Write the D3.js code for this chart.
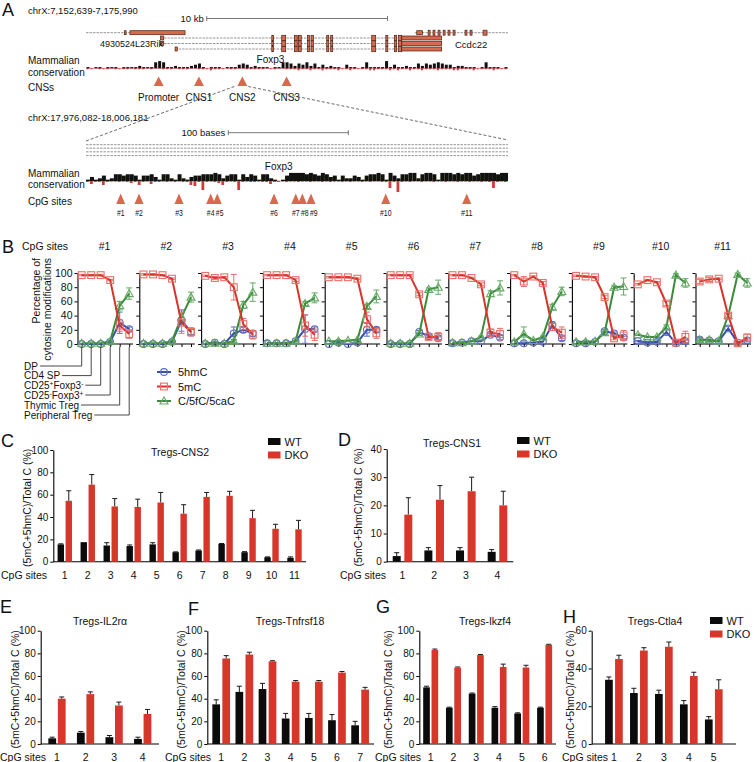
<!DOCTYPE html>
<html><head><meta charset="utf-8">
<script src="https://cdn.jsdelivr.net/npm/d3@7"></script>
<style>
body{margin:0;background:#fff}
svg{display:block}
text{font-family:"Liberation Sans",Arial,Helvetica,sans-serif;fill:#111}
</style></head><body>
<script>
// ---------------- DATA ----------------
// Panel A (top): gene annotation, kb from start of chrX:7,152,639-7,175,990
const regionKb = 23.35;
const scaleBarKb = [6.68, 16.68];
const rikSpan = [0, 5.48];
const rikExons = [[2.12, 2.22], [2.43, 5.48]];
const foxp3Starts = [4.12, 4.12, 4.93];
const foxp3FirstExons = [[4.12, 4.30], [4.12, 4.30], [4.93, 5.05]];
const foxp3End = 19.68;
const foxp3Exons = [[10.28,10.37],[10.83,11.05],[11.53,11.69],[11.75,11.91],[12.25,12.36],[12.45,12.58],[13.32,13.43],[13.54,13.65],[15.81,16.03],[16.59,16.70],[17.06,17.19],[17.28,17.47]];
const foxp3Utr = [17.47, 19.68];
const ccdcSpan = [18.2, 23.35];
const ccdcExons = [[18.30,18.62],[18.93,19.04],[19.20,19.31],[19.48,19.59],[19.76,19.87],[20.03,20.14],[20.31,20.42],[20.97,21.08],[21.25,21.36],[21.97,22.19]];
const cnsNames = ["Promoter", "CNS1", "CNS2", "CNS3"];
const cnsKb = [4.02, 6.25, 8.65, 11.1];
const consTopPos = [1,0,1,1,0,1,1,1,0,1,1,1,1,2,1,1,1,5,6,5,1,1,2,1,1,1,2,3,4,1,0,1,1,1,0,1,1,1,3,4,3,1,2,1,1,1,0,1,1,5,5,4,2,4,3,5,2,4,1,3,1,2,1,1,0,3,1,1,0,1,5,1,1,1,1,6,1,3,1,1,2,1,1,4,2,4,3,4,5,4,3,3,1,2,2,1,1,1,0,1,5,1,1,1,0,1];
const consTopNeg = [1,1,0,1,1,1,0,1,1,1,1,0,1,1,1,0,1,0,0,1,1,1,0,1,1,1,0,0,1,1,1,2,1,1,1,0,1,1,0,0,1,1,1,1,1,0,1,1,0,0,1,1,1,2,1,1,2,1,1,2,1,1,1,2,1,1,2,1,1,1,1,2,2,1,1,1,2,1,2,1,1,2,1,1,2,1,1,1,2,1,1,1,2,2,1,1,1,2,1,1,1,1,2,1,1,1];
// Panel A (bottom): CNS2 zoom, bases
const regionBases = 351.7;
const scaleBarBases = [118.6, 218.6];
const cpgNames = ["#1","#2","#3","#4","#5","#6","#7","#8","#9","#10","#11"];
const cpgBases = [28.9, 44.2, 77.5, 103.9, 109.4, 156.7, 174.8, 180.3, 187.5, 249.8, 317.3];
const consLowPos = [1,3,1,2,4,1,2,5,5,4, 5,5,4,1,4,4,5,3,1,5, 5,2,1,5,2,1,3,4,4,5, 5,5,6,5,2,4,5,5,1,5, 3,5,4,1,5,5,2,1,0,1, 4,6,6,6,6,5,6,5,4,6, 5,3,4,1,4,2,2,4,3,1, 4,5,5,6,5,1,6,4,2,5, 5,6,6,2,5,6,6,5,1,6, 6,6,5,6,5,6,6,4,5,6, 6,6,6,5,6,6];
const consLowNeg = [1,3,1,1,4,1,0.5,0.5,1,0.5, 1,2,1,4,1,0.5,3,1,1,0.5, 1,0.5,1,0.5,1,1,4,5,1,9, 1,0.5,1,2,4,1,0.5,1,9,1, 0.5,1,1,0.5,1,1,3,1,1,0.5, 1,0.5,0.5,1,0.5,0.5,1,0.5,0.5,1, 0.5,1,0.5,0.5,1,0.5,1,0.5,0.5,1, 0.5,1,0.5,0.5,1,1,7,1,11,1, 0.5,1,0.5,0.5,1,0.5,0.5,1,0.5,0.5, 1,0.5,0.5,1,0.5,0.5,1,0.5,0.5,1, 0.5,1,7,1,0.5,1];

// Panel B
const stages = ["DP", "CD4 SP", "CD25+Foxp3-", "CD25-Foxp3+", "Thymic Treg", "Peripheral Treg"];
const bSites = ["#1","#2","#3","#4","#5","#6","#7","#8","#9","#10","#11"];
const bTicks = [0, 20, 40, 60, 80, 100];
const hmC = [[0,0,0,3,30,21],[0,0,0,3,33,17],[0,2,0,15,20,15],[1,1,1,4,21,21],[0,2,0,2,20,20],[0,0,0,17,11,8],[1,2,4,4,13,9],[1,1,2,3,27,8],[1,1,3,18,15,9],[4,2,3,17,1,4],[6,5,4,22,2,5]];
const hmCErr = [[0,0,0,1,15,3],[0,0,0,1,15,4],[0,1,0,9,4,4],[0,0,0,1,20,3],[0,1,0,1,9,3],[0,0,0,2,2,2],[0,0,0,0,2,3],[0,0,0,0,4,3],[0,0,0,2,2,2],[1,1,1,3,1,2],[3,1,1,3,1,2]];
const mC = [[97,97,97,90,26,14],[98,98,97,92,30,17],[96,93,94,80,28,13],[97,97,97,90,26,13],[94,94,94,92,35,15],[97,97,97,70,10,10],[97,97,93,84,16,14],[97,88,95,86,24,16],[96,95,94,66,8,12],[84,90,87,57,2,10],[88,91,92,40,1,9]];
const mCErr = [[1,1,1,1,8,6],[1,1,1,1,15,6],[1,2,1,18,8,6],[1,1,1,2,15,8],[1,1,1,1,10,7],[1,1,1,2,2,6],[1,1,1,2,5,8],[1,7,1,2,5,8],[1,1,1,2,2,7],[1,1,1,3,1,8],[3,3,1,3,1,5]];
const caC = [[1,1,1,4,54,71],[1,1,1,4,38,66],[1,1,1,4,55,73],[1,1,1,4,57,65],[4,4,5,6,53,67],[1,1,1,14,77,80],[2,2,4,10,71,79],[3,14,5,10,52,74],[3,3,4,16,80,81],[13,10,10,24,97,86],[6,6,4,40,98,86]];
const caCErr = [[0,0,0,1,6,8],[0,0,0,1,5,7],[0,0,0,2,5,13],[0,0,0,1,3,7],[0,1,0,1,3,9],[0,0,0,2,2,10],[0,0,0,1,4,10],[0,10,0,1,4,6],[0,0,0,2,2,12],[1,1,1,3,2,6],[1,1,1,3,2,6]];
const bLegend = ["5hmC", "5mC", "C/5fC/5caC"];

// Panels C-H
const groups = ["WT", "DKO"];
const cCats = ["1","2","3","4","5","6","7","8","9","10","11"];
const cWT = [15.5,17.5,14.5,14,15.5,8.5,10,16,8.5,4,3.5];
const cWTErr = [0.5,0,2.5,1,1.5,0.3,0.5,0.3,0.5,0.3,0.8];
const cDKO = [54.5,69,49.5,49,53,43,58,59,39,29.5,29];
const cDKOErr = [9,9,7,7,9,8,4,4,7,4,8];
const dCats = ["1","2","3","4"];
const dWT = [2,4,4,3.5];
const dWTErr = [1.2,1,1,0.8];
const dDKO = [16.7,22,25,20];
const dDKOErr = [6,5,5,5];
const eCats = ["1","2","3","4"];
const eWT = [5,10,6,4.5];
const eWTErr = [1,1,1.5,1.5];
const eDKO = [40,44,34,26.5];
const eDKOErr = [1.5,2,3,4];
const fCats = ["1","2","3","4","5","6","7"];
const fWT = [35,46,48.5,22.5,23,21,16.5];
const fWTErr = [4,5,5,4.5,4,5,3.5];
const fDKO = [75.5,79,73,55,55,63,48];
const fDKOErr = [2.5,2,0.5,1,1,1,2];
const gCats = ["1","2","3","4","5","6"];
const gWT = [50,32,44.5,32,27,32];
const gWTErr = [1,0.5,0.5,1,0.5,0.5];
const gDKO = [83,67.5,78.5,68,67.5,87.5];
const gDKOErr = [0.8,0.5,0.5,2.5,2,0.5];
const hCats = ["1","2","3","4","5"];
const hWT = [34,27,26.5,21,13];
const hWTErr = [1.5,2.5,2,2,1.5];
const hDKO = [45,49.5,51.5,36,29];
const hDKOErr = [2,1.5,2.5,2,5];

// ---------------- DRAW ----------------
const svg = d3.select("body").append("svg").attr("width", 754).attr("height", 762);
const EXON = "#d9694e", EXON_STROKE = "#4a2416", TRI = "#d9694e";
function text(g, x, y, s, o = {}) {
  const t = g.append("text").attr("x", x).attr("y", y).attr("font-size", o.size || 10.5)
    .attr("text-anchor", o.anchor || "start").text(s);
  if (o.fill) t.attr("fill", o.fill);
  return t;
}
function vtext(g, cx, cy, s, o = {}) {
  return g.append("text").attr("transform", `translate(${cx},${cy}) rotate(-90)`)
    .attr("font-size", o.size || 10.5).attr("text-anchor", o.anchor || "middle").text(s);
}
function scaleBar(g, x0, x1, y) {
  g.append("line").attr("x1", x0).attr("x2", x1).attr("y1", y).attr("y2", y).attr("stroke", "#555").attr("stroke-width", 0.8);
  [x0, x1].forEach(x => g.append("line").attr("x1", x).attr("x2", x).attr("y1", y - 2.5).attr("y2", y + 2.5).attr("stroke", "#555").attr("stroke-width", 0.8));
}
function intron(g, x0, x1, y) {
  g.append("line").attr("x1", x0).attr("x2", x1).attr("y1", y).attr("y2", y)
    .attr("stroke", "#8a8a8a").attr("stroke-width", 0.9).attr("stroke-dasharray", "2.5,1");
}
function exon(g, x0, x1, y, h) {
  g.append("rect").attr("x", x0).attr("y", y - h / 2).attr("width", Math.max(1.5, x1 - x0)).attr("height", h)
    .attr("fill", EXON).attr("stroke", EXON_STROKE).attr("stroke-width", 0.7);
}
function tri(g, x, yTop, w, h) {
  g.append("path").attr("d", `M${x},${yTop}L${x - w / 2},${yTop + h}L${x + w / 2},${yTop + h}Z`).attr("fill", TRI);
}
function consTrack(g, pos, neg, baseY, pscale, frac) {
  const xb = d3.scaleBand().domain(d3.range(pos.length)).range([86, 508]);
  const hp = d3.scaleLinear().domain([0, 1]).range([0, pscale]);
  g.append("line").attr("x1", 86).attr("x2", 508).attr("y1", baseY).attr("y2", baseY).attr("stroke", "#d23a3a").attr("stroke-width", 0.6);
  g.selectAll(null).data(neg).join("rect")
    .attr("x", (d, i) => xb(i) + xb.bandwidth() * (1 - frac) / 2).attr("width", xb.bandwidth() * frac * 0.7)
    .attr("y", baseY).attr("height", d => d).attr("fill", "#d23a3a");
  g.selectAll(null).data(pos).join("rect")
    .attr("x", (d, i) => xb(i) + xb.bandwidth() * (1 - frac) / 2).attr("width", xb.bandwidth() * frac)
    .attr("y", d => baseY - hp(d)).attr("height", d => hp(d)).attr("fill", "#111");
}

// ===== Panel A =====
const gA = svg.append("g");
text(gA, 2, 16, "A", { size: 18 });
text(gA, 28, 14, "chrX:7,152,639-7,175,990", { size: 9.5 });
const xKb = d3.scaleLinear().domain([0, regionKb]).range([86, 508]);
text(gA, xKb(scaleBarKb[0]) - 3, 22, "10 kb", { size: 9.5, anchor: "end" });
scaleBar(gA, xKb(scaleBarKb[0]), xKb(scaleBarKb[1]), 18.5);
intron(gA, xKb(rikSpan[0]), xKb(rikSpan[1]), 32.7);
rikExons.forEach(e => exon(gA, xKb(e[0]), xKb(e[1]), 32.7, 4));
intron(gA, xKb(ccdcSpan[0]), xKb(ccdcSpan[1]), 32.7);
ccdcExons.forEach((e, i) => exon(gA, xKb(e[0]), xKb(e[1]), 32.7, i === 0 ? 4 : 5));
const fRows = [38, 43.5, 49];
fRows.forEach((y, r) => {
  intron(gA, xKb(foxp3Starts[r]), xKb(foxp3End), y);
  exon(gA, xKb(foxp3FirstExons[r][0]), xKb(foxp3FirstExons[r][1]), y, 4);
  foxp3Exons.forEach(e => exon(gA, xKb(e[0]), xKb(e[1]), y, 5.4));
  exon(gA, xKb(foxp3Utr[0]), xKb(foxp3Utr[1]), y, 4);
});
text(gA, 100, 47, "4930524L23Rik", { size: 9 });
text(gA, 455, 47.5, "Ccdc22", { size: 9.5 });
text(gA, 270.5, 63, "Foxp3", { size: 10, anchor: "middle" });
text(gA, 28, 64, "Mammalian", { size: 10 });
text(gA, 28, 75.5, "conservation", { size: 10 });
consTrack(gA, consTopPos, consTopNeg, 68.3, 1.2, 0.75);
text(gA, 28, 91, "CNSs", { size: 10 });
cnsKb.forEach((k, i) => {
  tri(gA, xKb(k), 76.5, 10, 9.5);
  text(gA, xKb(k), 101, cnsNames[i], { size: 10, anchor: "middle" });
});
gA.append("line").attr("x1", xKb(cnsKb[2]) - 8).attr("y1", 86.5).attr("x2", 86).attr("y2", 141)
  .attr("stroke", "#444").attr("stroke-width", 0.8).attr("stroke-dasharray", "3,2");
gA.append("line").attr("x1", xKb(cnsKb[2]) + 6).attr("y1", 86.5).attr("x2", 508).attr("y2", 140)
  .attr("stroke", "#444").attr("stroke-width", 0.8).attr("stroke-dasharray", "3,2");
text(gA, 28, 121, "chrX:17,976,082-18,006,181", { size: 9.5 });
const xBase = d3.scaleLinear().domain([0, regionBases]).range([86, 508]);
text(gA, xBase(scaleBarBases[0]) - 3, 136, "100 bases", { size: 9.5, anchor: "end" });
scaleBar(gA, xBase(scaleBarBases[0]), xBase(scaleBarBases[1]), 132.7);
[144.7, 148.2, 151.8, 155.6].forEach(y => intron(gA, 86, 508, y));
text(gA, 278.7, 169.5, "Foxp3", { size: 10, anchor: "middle" });
text(gA, 28, 176.5, "Mammalian", { size: 10 });
text(gA, 28, 188, "conservation", { size: 10 });
consTrack(gA, consLowPos, consLowNeg, 181, 1.35, 1);
text(gA, 28, 204.5, "CpG sites", { size: 10 });
const cpgX = cpgBases.map(b => xBase(b));
const labX = cpgX.slice();
for (let i = 1; i < labX.length; i++) if (labX[i] - labX[i - 1] < 9) labX[i] = labX[i - 1] + 9;
cpgX.forEach((x, i) => {
  tri(gA, x, 193.5, 9, 10.5);
  const n = cpgNames[i].length;
  text(gA, labX[i], 216, cpgNames[i], { size: 9, anchor: "middle" })
    .attr("textLength", n === 2 ? 7.6 : 11.5).attr("lengthAdjust", "spacingAndGlyphs");
});

// ===== Panel B =====
const gB = svg.append("g");
text(gB, 2, 253, "B", { size: 18 });
text(gB, 22, 249.5, "CpG sites", { size: 10.5 });
const bY = d3.scaleLinear().domain([0, 100]).range([344, 273]);
const bAxis0 = 77.5, bStep = 61.8;
const seriesDefs = [
  { vals: hmC, err: hmCErr, line: "#3a4ea6", mark: "#5a6cc2", shape: "circle" },
  { vals: caC, err: caCErr, line: "#3b8b3b", mark: "#64aa64", shape: "triangle" },
  { vals: mC, err: mCErr, line: "#d8342a", mark: "#e8706a", shape: "square" }
];
function marker(g, shape, x, y, color) {
  if (shape === "circle") g.append("circle").attr("cx", x).attr("cy", y).attr("r", 3.4).attr("fill", "none").attr("stroke", color).attr("stroke-width", 1.1);
  else if (shape === "square") g.append("rect").attr("x", x - 3.4).attr("y", y - 3.4).attr("width", 6.8).attr("height", 6.8).attr("fill", "none").attr("stroke", color).attr("stroke-width", 1.1);
  else g.append("path").attr("d", `M${x},${y - 4}L${x - 4},${y + 3}L${x + 4},${y + 3}Z`).attr("fill", "none").attr("stroke", color).attr("stroke-width", 1.1);
}
let firstX = null;
bSites.forEach((site, k) => {
  const ax = bAxis0 + bStep * k;
  const x = d3.scalePoint().domain(stages).range([ax + 4.2, ax + 51.7]);
  if (k === 0) firstX = x;
  const g = gB.append("g");
  const yAx = d3.axisLeft(bY).tickValues(bTicks).tickSize(3).tickSizeOuter(0).tickPadding(2);
  if (k > 0) yAx.tickFormat("");
  const ya = g.append("g").attr("transform", `translate(${ax},0)`).call(yAx);
  ya.selectAll("text").attr("font-size", 10.5).attr("font-family", null);
  ya.select(".domain").attr("stroke-width", 1.1);
  const xa = g.append("g").attr("transform", `translate(0,${bY(0)})`).call(d3.axisBottom(x).tickSize(3).tickSizeOuter(0).tickFormat(""));
  xa.select(".domain").remove();
  g.append("line").attr("x1", ax).attr("x2", ax + 55.5).attr("y1", bY(0)).attr("y2", bY(0)).attr("stroke", "#000").attr("stroke-width", 1.1);
  text(g, ax + 27, 249.5, site, { size: 10.5, anchor: "middle" });
  seriesDefs.forEach(s => {
    const v = s.vals[k], e = s.err[k];
    v.forEach((d, i) => {
      if (e[i] > 0.5) {
        const xx = x(stages[i]);
        g.append("line").attr("x1", xx).attr("x2", xx).attr("y1", bY(d - e[i])).attr("y2", bY(Math.min(100, d + e[i]))).attr("stroke", s.mark).attr("stroke-width", 1);
        [d - e[i], Math.min(100, d + e[i])].forEach(c => g.append("line").attr("x1", xx - 3).attr("x2", xx + 3).attr("y1", bY(c)).attr("y2", bY(c)).attr("stroke", s.mark).attr("stroke-width", 1));
      }
    });
    g.append("path").datum(v).attr("fill", "none").attr("stroke", s.line).attr("stroke-width", 2)
      .attr("d", d3.line().x((d, i) => x(stages[i])).y(d => bY(d)));
    v.forEach((d, i) => marker(g, s.shape, x(stages[i]), bY(d), s.mark));
  });
});
vtext(gB, 39.5, 258, "Percentage of", { size: 10.5, anchor: "end" });
vtext(gB, 51, 258, "cytosine modifications", { size: 10.5, anchor: "end" });
const stageLineY = [366, 375.6, 385.2, 395, 405, 415];
stages.forEach((s, i) => {
  const t = gB.append("text").attr("x", 24).attr("y", stageLineY[i] + 3.6).attr("font-size", 10);
  if (s.startsWith("CD25")) {
    const a = s.charAt(4), b = s.charAt(10);
    t.append("tspan").text("CD25");
    t.append("tspan").text(a).attr("font-size", 6.5).attr("dy", -3);
    t.append("tspan").text("Foxp3").attr("dy", 3);
    t.append("tspan").text(b).attr("font-size", 6.5).attr("dy", -3);
  } else t.text(s);
  const w = t.node().getComputedTextLength();
  const px = firstX(s);
  gB.append("path").attr("d", `M${24 + w + 2},${stageLineY[i]}H${px}V${bY(0) + 3}`)
    .attr("fill", "none").attr("stroke", "#333").attr("stroke-width", 0.9);
});
const legOrder = [seriesDefs[0], seriesDefs[2], seriesDefs[1]];
[372, 386.5, 401].forEach((y, i) => {
  const s = legOrder[i];
  gB.append("line").attr("x1", 157).attr("x2", 171).attr("y1", y).attr("y2", y).attr("stroke", s.line).attr("stroke-width", 2);
  marker(gB, s.shape, 164, y, s.mark);
  text(gB, 178, y + 4, bLegend[i], { size: 11 });
});

// ===== Bar panels =====
const WT_COL = "#0b0b0b", DKO_COL = "#d7372b";
function barPanel(p) {
  const g = svg.append("g");
  const x = d3.scaleBand().domain(p.cats).range([p.x0, p.x1]).paddingInner(0).paddingOuter(p.po);
  const xi = d3.scaleBand().domain(groups).range([-p.gw / 2, p.gw / 2]).paddingInner(p.pi);
  const y = d3.scaleLinear().domain([0, p.max]).range([p.yBot, p.yTop]);
  const ya = g.append("g").attr("transform", `translate(${p.x0},0)`)
    .call(d3.axisLeft(y).tickValues(p.ticks).tickSize(3).tickSizeOuter(0).tickPadding(2));
  ya.selectAll("text").attr("font-size", 10).attr("font-family", null);
  ya.select(".domain").attr("stroke-width", 1.1);
  g.append("line").attr("x1", p.x0).attr("x2", p.x1).attr("y1", p.yBot).attr("y2", p.yBot).attr("stroke", "#000").attr("stroke-width", 1.1);
  const sets = [[p.wt, p.wtErr, WT_COL, "WT"], [p.dko, p.dkoErr, DKO_COL, "DKO"]];
  sets.forEach(([vals, errs, col, name]) => {
    vals.forEach((v, i) => {
      const cx = x(p.cats[i]) + x.bandwidth() / 2 + xi(name);
      const bw = xi.bandwidth();
      const top = y(v + errs[i]);
      if (errs[i] > 0.2) {
        g.append("line").attr("x1", cx + bw / 2).attr("x2", cx + bw / 2).attr("y1", y(v)).attr("y2", top).attr("stroke", "#1a1a1a").attr("stroke-width", 1);
        g.append("line").attr("x1", cx + bw / 2 - 2.5).attr("x2", cx + bw / 2 + 2.5).attr("y1", top).attr("y2", top).attr("stroke", "#1a1a1a").attr("stroke-width", 1);
      }
      g.append("rect").attr("x", cx).attr("width", bw).attr("y", y(v)).attr("height", p.yBot - y(v)).attr("fill", col);
    });
  });
  p.cats.forEach(c => text(g, x(c) + x.bandwidth() / 2, p.yBot + 17, c, { size: 10.5, anchor: "middle" }));
  text(g, p.cpgX, p.yBot + 17, "CpG sites", { size: 10.5 });
  vtext(g, p.ylabX, (p.yTop + p.yBot) / 2 + 2, "(5mC+5hmC)/Total C (%)", { size: 10.5 });
  text(g, p.titleX, p.titleY, p.title, { size: 10.5, anchor: "middle" });
  text(g, p.letterX, p.letterY, p.letter, { size: 18 });
  if (p.leg) {
    groups.forEach((name, i) => {
      g.append("rect").attr("x", p.leg[0]).attr("y", p.leg[1] + i * 13.5).attr("width", 12.5).attr("height", 7).attr("fill", i === 0 ? WT_COL : DKO_COL);
      text(g, p.leg[0] + 16.5, p.leg[1] + i * 13.5 + 7.5, name, { size: 11 });
    });
  }
}
barPanel({ cats: cCats, wt: cWT, wtErr: cWTErr, dko: cDKO, dkoErr: cDKOErr, x0: 53.3, x1: 306, po: 0, gw: 14.4, pi: 0.2,
  yTop: 450, yBot: 561.7, max: 100, ticks: [0,20,40,60,80,100], cpgX: 1, ylabX: 31, title: "Tregs-CNS2", titleX: 180, titleY: 456,
  letter: "C", letterX: 1, letterY: 447, leg: [268, 438] });
barPanel({ cats: dCats, wt: dWT, wtErr: dWTErr, dko: dDKO, dkoErr: dDKOErr, x0: 386.7, x1: 513.3, po: 0, gw: 19.6, pi: 0.31,
  yTop: 449, yBot: 561.7, max: 40, ticks: [0,10,20,30,40], cpgX: 340, ylabX: 362, title: "Tregs-CNS1", titleX: 452, titleY: 447,
  letter: "D", letterX: 338, letterY: 446, leg: [517, 437] });
barPanel({ cats: eCats, wt: eWT, wtErr: eWTErr, dko: eDKO, dkoErr: eDKOErr, x0: 40.7, x1: 159, po: 0.07, gw: 17.3, pi: 0.18,
  yTop: 630.7, yBot: 744, max: 100, ticks: [0,20,40,60,80,100], cpgX: 0, ylabX: 18.5, title: "Tregs-IL2r\u03b1", titleX: 100, titleY: 625,
  letter: "E", letterX: 0, letterY: 613 });
barPanel({ cats: fCats, wt: fWT, wtErr: fWTErr, dko: fDKO, dkoErr: fDKOErr, x0: 207.3, x1: 374, po: 0.1, gw: 17.7, pi: 0.23,
  yTop: 630.7, yBot: 744, max: 100, ticks: [0,20,40,60,80,100], cpgX: 165, ylabX: 185, title: "Tregs-Tnfrsf18", titleX: 290, titleY: 625,
  letter: "F", letterX: 188, letterY: 615 });
barPanel({ cats: gCats, wt: gWT, wtErr: gWTErr, dko: gDKO, dkoErr: gDKOErr, x0: 419.3, x1: 556, po: 0, gw: 15, pi: 0.2,
  yTop: 630.7, yBot: 744, max: 100, ticks: [0,20,40,60,80,100], cpgX: 375, ylabX: 392, title: "Tregs-Ikzf4", titleX: 485, titleY: 625,
  letter: "G", letterX: 376, letterY: 613 });
barPanel({ cats: hCats, wt: hWT, wtErr: hWTErr, dko: hDKO, dkoErr: hDKOErr, x0: 591.7, x1: 736, po: 0.39, gw: 17.7, pi: 0.23,
  yTop: 630.7, yBot: 744, max: 60, ticks: [0,20,40,60], cpgX: 562, ylabX: 574, title: "Tregs-Ctla4", titleX: 655, titleY: 625,
  letter: "H", letterX: 563, letterY: 623, leg: [710, 617] });
</script></body></html>
